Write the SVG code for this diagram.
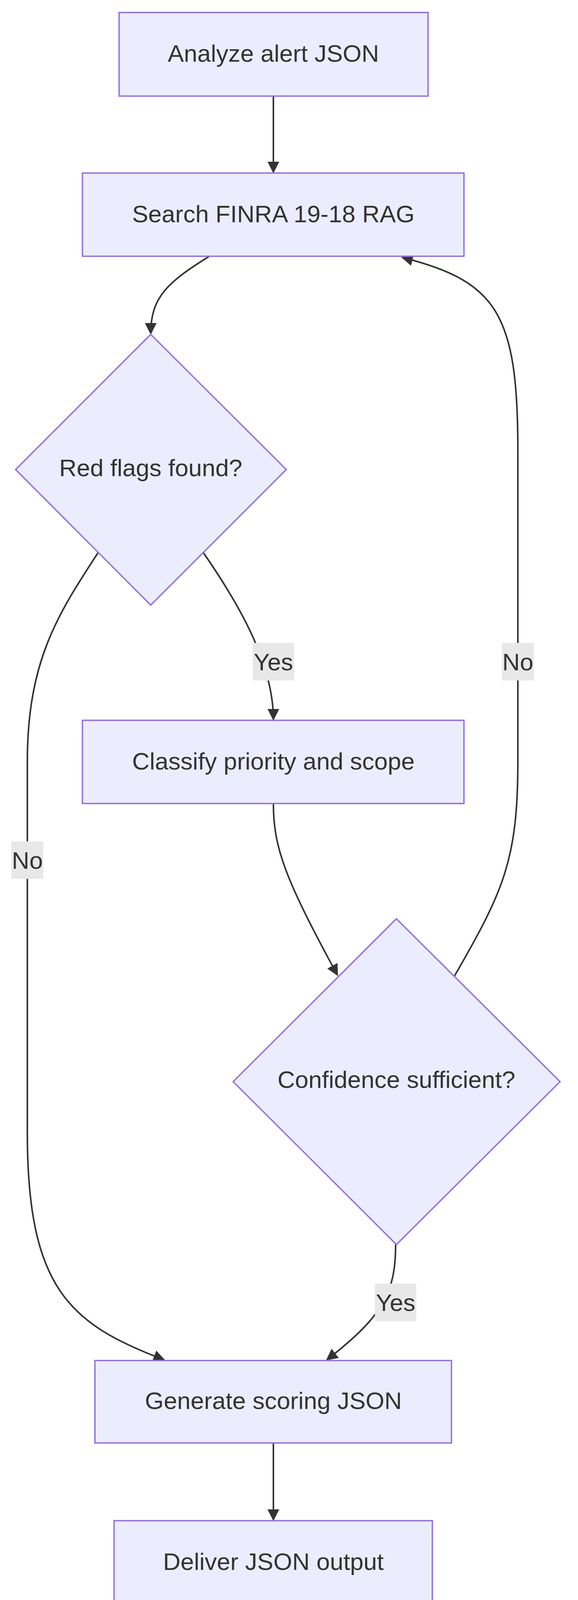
<svg xmlns="http://www.w3.org/2000/svg" width="1480" height="4180" viewBox="0 0 1480 4180">
<style>
.n{fill:#ECECFF;stroke:#9370DB;stroke-width:3.5}
.t{font-family:"Liberation Sans",Arial,sans-serif;font-size:62px;fill:#333;text-anchor:middle;dominant-baseline:central}
.e{fill:none;stroke:#333;stroke-width:4}
.lb{fill:#e8e8e8}
</style>
<defs>
<marker id="a" viewBox="0 0 10 10" refX="9" refY="5" markerWidth="30" markerHeight="30" markerUnits="userSpaceOnUse" orient="auto">
<path d="M0,0 L10,5 L0,10 z" fill="#333"/>
</marker>
</defs>
<rect width="1480" height="4180" fill="#fff"/>
<g id="edges">
<path class="e" d="M700,246 L700,441" marker-end="url(#a)"/>
<path class="e" d="M536,656 C430,722 386,760 386,854" marker-end="url(#a)"/>
<path class="e" d="M521,1415 C600,1530 700,1690 700,1842" marker-end="url(#a)"/>
<path class="e" d="M251,1415 C150,1570 70,1690 70,1950 L70,2900 C70,3300 180,3390 420,3481" marker-end="url(#a)"/>
<path class="e" d="M700,2057 C700,2170 730,2250 864,2496" marker-end="url(#a)"/>
<path class="e" d="M1164,2498 C1290,2280 1326,2200 1326,1950 L1326,1150 C1326,800 1270,720 1030,659" marker-end="url(#a)"/>
<path class="e" d="M1013,3186 C1013,3310 980,3370 837,3481" marker-end="url(#a)"/>
<path class="e" d="M700,3694 L700,3891" marker-end="url(#a)"/>
<rect class="lb" x="647" y="1646" width="106" height="96"/><text class="t" x="700" y="1694">Yes</text>
<rect class="lb" x="1285" y="1646" width="82" height="96"/><text class="t" x="1326" y="1694">No</text>
<rect class="lb" x="29" y="2154" width="82" height="96"/><text class="t" x="70" y="2202">No</text>
<rect class="lb" x="960" y="3286" width="106" height="96"/><text class="t" x="1013" y="3334">Yes</text>
</g>
<g id="n1"><rect class="n" x="305" y="32" width="791" height="214"/><text class="t" x="700" y="136">Analyze alert JSON</text></g>
<g id="n2"><rect class="n" x="211" y="443" width="977" height="213"/><text class="t" x="700" y="547">Search FINRA 19-18 RAG</text></g>
<g id="n3"><path class="n" d="M386,856 L733,1202 L386,1549 L40,1202 Z"/><text class="t" x="386" y="1197">Red flags found?</text></g>
<g id="n4"><rect class="n" x="211" y="1844" width="977" height="213"/><text class="t" x="700" y="1948">Classify priority and scope</text></g>
<g id="n5"><path class="n" d="M1015,2352 L1434,2769 L1015,3186 L597,2769 Z"/><text class="t" x="1015" y="2763">Confidence sufficient?</text></g>
<g id="n6"><rect class="n" x="243" y="3483" width="913" height="211"/><text class="t" x="700" y="3585">Generate scoring JSON</text></g>
<g id="n7"><rect class="n" x="292" y="3893" width="815" height="214"/><text class="t" x="700" y="3997">Deliver JSON output</text></g>
</svg>
